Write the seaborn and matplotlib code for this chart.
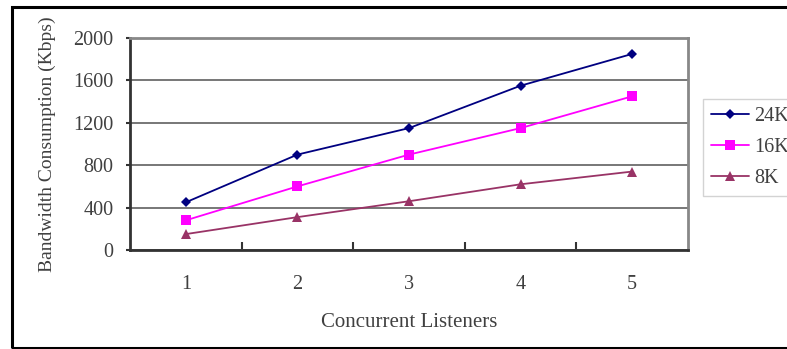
import matplotlib
matplotlib.use("Agg")
import matplotlib.pyplot as plt
import seaborn as sns
import pandas as pd
from matplotlib.patches import Rectangle
from matplotlib.ticker import FixedLocator

# Bandwidth consumption per number of concurrent listeners, for three bitrates
listeners = [1, 2, 3, 4, 5]
bw_24k = [450, 900, 1150, 1550, 1850]
bw_16k = [280, 600, 900, 1150, 1450]
bw_8k = [150, 310, 460, 620, 740]
series_names = ["24K", "16K", "8K"]
y_ticks = [0, 400, 800, 1200, 1600, 2000]

df = pd.DataFrame({
    "Listeners": listeners * 3,
    "Bandwidth": bw_24k + bw_16k + bw_8k,
    "Rate": [series_names[0]] * 5 + [series_names[1]] * 5 + [series_names[2]] * 5,
})

sns.set_style("white")
plt.rcParams["font.family"] = ["Liberation Serif", "DejaVu Serif"]
text_color = "#404040"

fig = plt.figure(figsize=(7.87, 3.49), dpi=100)
ax = fig.add_axes([130 / 787, 1 - 250 / 349, 558 / 787, 212 / 349])

palette = {"24K": "#000080", "16K": "#FF00FF", "8K": "#993366"}
markers = {"24K": "D", "16K": "s", "8K": "^"}
sizes = {"24K": 5, "16K": 6.5, "8K": 7}

for name in series_names:
    sub = df[df["Rate"] == name]
    sns.lineplot(data=sub, x="Listeners", y="Bandwidth", ax=ax, color=palette[name],
                 marker=markers[name], markersize=sizes[name], markeredgewidth=0,
                 linewidth=1.3, label=name)

ax.set_xlim(0.5, 5.5)
ax.set_ylim(0, 2000)
ax.set_yticks(y_ticks)
ax.set_xticks(listeners)
ax.xaxis.set_minor_locator(FixedLocator([1.5, 2.5, 3.5, 4.5]))
ax.tick_params(axis="x", which="major", length=0, pad=18, labelsize=14.5, labelcolor=text_color)
ax.tick_params(axis="x", which="minor", direction="in", length=6, width=1.5, color="#333333", bottom=True)
ax.tick_params(axis="y", which="major", direction="out", length=3, width=1.5, color="#333333",
               left=True, pad=9, labelsize=14.5, labelcolor=text_color)

ax.yaxis.grid(True, color="#777777", linewidth=1.4)
ax.set_axisbelow(True)
for side in ["left", "bottom"]:
    ax.spines[side].set_color("#333333")
    ax.spines[side].set_linewidth(2)
for side in ["top", "right"]:
    ax.spines[side].set_color("#888888")
    ax.spines[side].set_linewidth(2)

ax.set_xlabel("Concurrent Listeners", fontsize=15, color=text_color, labelpad=14)
ax.set_ylabel("Bandwidth Consumption (Kbps)", fontsize=14, color=text_color, labelpad=12)

leg = ax.legend(loc="upper left", bbox_to_anchor=(703 / 787, 1 - 99 / 349),
                bbox_transform=fig.transFigure, frameon=True, fontsize=14.5,
                handlelength=1.9, handletextpad=0.26, labelspacing=0.6,
                borderpad=0.38, fancybox=False, borderaxespad=0)
leg.get_frame().set_edgecolor("#c8c8c8")
leg.get_frame().set_linewidth(1)
for t in leg.get_texts():
    t.set_color(text_color)

# outer chart frame
fig.patches.append(Rectangle((12 / 787, 1 / 349), 1.0, 1 - 8 / 349,
                             transform=fig.transFigure, fill=False,
                             edgecolor="black", linewidth=2.2, clip_on=False))

fig.savefig("out.png", dpi=100)
